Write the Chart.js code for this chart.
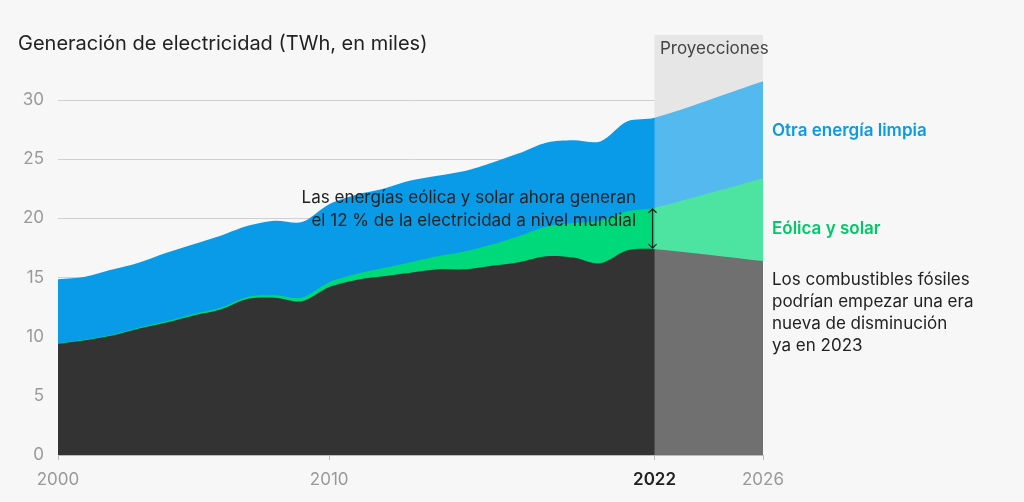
<!DOCTYPE html>
<html><head><meta charset="utf-8">
<script src="https://cdn.jsdelivr.net/npm/chart.js@4"></script>
<style>html,body{margin:0;background:#f7f7f7;}#w{position:relative;width:1024px;height:502px;}
.t{position:absolute;font-family:Inter,"Open Sans",sans-serif;white-space:nowrap;}</style>
</head><body><div id="w"><canvas id="c" width="1024" height="502"></canvas>
<div class="t" style="left:18px;top:31px;font-size:20px;color:#222">Generación de electricidad (TWh, en miles)</div>
<div class="t" style="left:660px;top:38px;font-size:17px;color:#444">Proyecciones</div>
<div class="t" style="left:772px;top:120px;font-size:17px;color:#0a9be8;font-weight:600">Otra energía limpia</div>
<div class="t" style="left:772px;top:218px;font-size:17px;color:#00c86a;font-weight:600">Eólica y solar</div>
<div class="t" style="left:772px;top:268px;font-size:17px;color:#222;line-height:22px">Los combustibles fósiles<br>podrían empezar una era<br>nueva de disminución<br>ya en 2023</div>
<div class="t" style="right:388px;top:186px;font-size:17px;color:#222;text-align:right;line-height:23px">Las energías eólica y solar ahora generan<br>el 12 % de la electricidad a nivel mundial</div>
</div>
<script>
const years=[2000,2001,2002,2003,2004,2005,2006,2007,2008,2009,2010,2011,2012,2013,2014,2015,2016,2017,2018,2019,2020,2021,2022,2026];
const fossil=[9.4,9.7,10.1,10.7,11.2,11.8,12.3,13.2,13.3,13.0,14.2,14.8,15.1,15.4,15.7,15.7,16.0,16.3,16.8,16.7,16.2,17.3,17.4,16.4];
const windSolar=[0.05,0.06,0.07,0.08,0.1,0.12,0.14,0.17,0.2,0.3,0.4,0.5,0.7,0.9,1.1,1.5,1.8,2.2,2.5,2.9,3.6,3.3,3.5,7.0];
const otherClean=[5.4,5.3,5.5,5.5,5.8,5.9,6.1,6.0,6.3,6.4,6.6,6.7,6.7,6.9,6.8,6.8,6.9,7.0,7.1,7.0,6.7,7.6,7.6,8.2];
const xTicks=[2000,2010,2022,2026];
const yTicks=[0,5,10,15,20,25,30];
const pts=a=>a.map((v,i)=>({x:years[i],y:v}));
const plug={id:'p',
beforeDatasetsDraw(ch){const{ctx,chartArea:a,scales:{x}}=ch;const x0=x.getPixelForValue(2022);ctx.save();ctx.fillStyle='#dcdcdc';ctx.fillRect(x0,a.top,a.right-x0,a.bottom-a.top);ctx.restore();},
afterDatasetsDraw(ch){const{ctx,chartArea:a,scales:{x,y}}=ch;const x0=x.getPixelForValue(2022);ctx.save();ctx.fillStyle='rgba(255,255,255,0.3)';ctx.fillRect(x0,a.top,a.right-x0,a.bottom-a.top);
ctx.strokeStyle='#222';ctx.lineWidth=1.2;const y1=y.getPixelForValue(fossil[22]+windSolar[22]),y2=y.getPixelForValue(fossil[22]);const xa=x0-2;
ctx.beginPath();ctx.moveTo(xa,y1+1);ctx.lineTo(xa,y2-1);ctx.moveTo(xa-4,y1+5);ctx.lineTo(xa,y1+1);ctx.lineTo(xa+4,y1+5);ctx.moveTo(xa-4,y2-5);ctx.lineTo(xa,y2-1);ctx.lineTo(xa+4,y2-5);ctx.stroke();ctx.restore();}};
const ds=(l,d,c)=>({label:l,data:pts(d),backgroundColor:c,borderWidth:0,fill:true,pointRadius:0,tension:0.3});
new Chart(document.getElementById('c'),{type:'line',
data:{datasets:[ds('Fósiles',fossil,'#333333'),ds('Eólica y solar',windSolar,'#00d97a'),ds('Otra energía limpia',otherClean,'#0a9be8')]},
options:{responsive:false,animation:false,layout:{padding:{top:35,right:261,left:0,bottom:0}},
plugins:{legend:{display:false},tooltip:{enabled:false}},
scales:{x:{type:'linear',min:2000,max:2026,afterBuildTicks:s=>{s.ticks=xTicks.map(v=>({value:v}));},afterFit:s=>{s.height=47;},
grid:{drawOnChartArea:false,color:'#bbb',tickLength:5},border:{color:'#bbb'},
ticks:{maxRotation:0,padding:10,callback:v=>String(v),font:c=>({family:'Inter',size:17,weight:c.tick&&c.tick.value===2022?'600':'400'}),color:c=>c.tick&&c.tick.value===2022?'#222':'#999'}},
y:{stacked:true,min:0,max:35.5,afterBuildTicks:s=>{s.ticks=yTicks.map(v=>({value:v}));},afterFit:s=>{s.width=58;},
grid:{color:'#d0d0d0',drawTicks:false},border:{display:false},ticks:{padding:14,font:{family:'Inter',size:17},color:'#999'}}}},
plugins:[plug]});
</script></body></html>
